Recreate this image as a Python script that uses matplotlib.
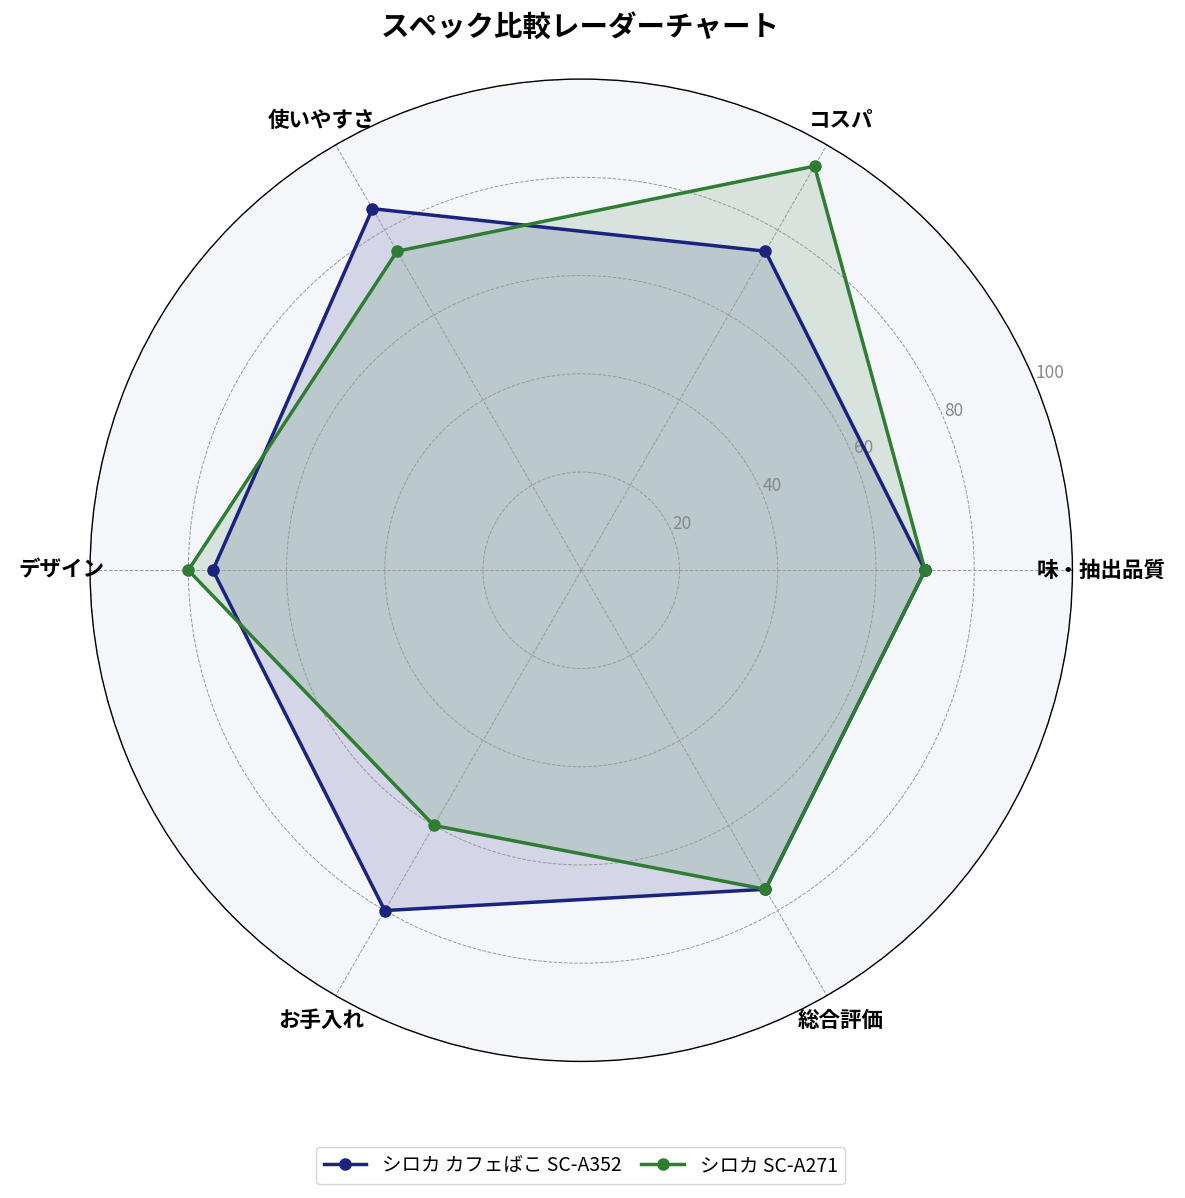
import numpy as np
import matplotlib.pyplot as plt

plt.rcParams['font.family'] = ['Noto Sans CJK JP', 'DejaVu Sans']

categories = ['味・抽出品質', 'コスパ', '使いやすさ', 'デザイン', 'お手入れ', '総合評価']
series_names = ['シロカ カフェばこ SC-A352', 'シロカ SC-A271']
values_a352 = [70, 75, 85, 75, 80, 75]
values_a271 = [70, 95, 75, 80, 60, 75]
r_ticks = [20, 40, 60, 80, 100]

colors = ['#1a237e', '#2e7d32']

n = len(categories)
angles = np.linspace(0, 2 * np.pi, n, endpoint=False).tolist()
angles_closed = angles + angles[:1]

fig = plt.figure(figsize=(11.85, 11.98), dpi=100)
ax = fig.add_axes([0.076, 0.114, 0.829, 0.820], projection='polar')
ax.set_facecolor('#f5f6fa')

for vals, name, c in zip([values_a352, values_a271], series_names, colors):
    v = vals + vals[:1]
    ax.plot(angles_closed, v, color=c, linewidth=2.5, marker='o', markersize=8, label=name)
    ax.fill(angles_closed, v, color=c, alpha=0.15)

ax.set_ylim(0, 100)
ax.set_yticks(r_ticks)
ax.set_yticklabels([str(t) for t in r_ticks], color='#888888', fontsize=12.5)
ax.set_rlabel_position(22.5)
ax.set_xticks(angles)
ax.set_xticklabels(categories, fontsize=15.5, fontweight='bold')
ax.tick_params(axis='x', pad=10)
ax.grid(True, color='#999999', linestyle='--', linewidth=0.7)
ax.spines['polar'].set_color('black')
ax.spines['polar'].set_linewidth(1.0)

fig.text(0.49, 0.977, 'スペック比較レーダーチャート', fontsize=20.5, fontweight='bold',
         ha='center', va='center')
fig.legend(loc='center', bbox_to_anchor=(0.49, 0.027), ncol=2, fontsize=14, frameon=True,
           handlelength=2.2, columnspacing=1.0)

fig.savefig('out.png', dpi=100)
